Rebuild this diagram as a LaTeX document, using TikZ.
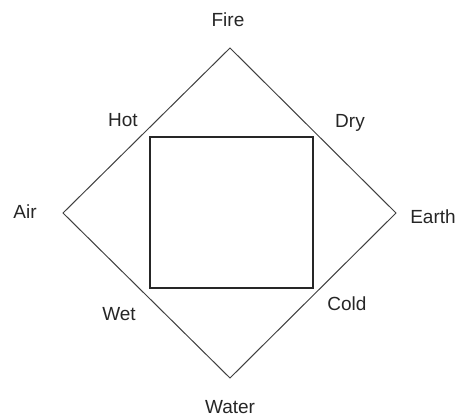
\documentclass[tikz,border=0pt]{standalone}
\usepackage{fontspec}
\setmainfont{Liberation Sans}
\usepackage{tikz}
\usetikzlibrary{positioning}
\tikzset{
  outer/.style   = {draw=black!75, line width=1pt, line join=miter},
  inner/.style   = {draw=black!85, line width=1.5pt},
  elem/.style    = {font=\fontsize{19}{22}\selectfont, text=black!85, anchor=base, inner sep=0pt},
}

\begin{document}
\begin{tikzpicture}[x=1pt,y=1pt]
  \useasboundingbox (0,0) rectangle (461,-416);

  % corners of the diamond
  \coordinate (fire)  at (230,-48);
  \coordinate (earth) at (396,-213);
  \coordinate (water) at (230,-378);
  \coordinate (air)   at (63,-213);
  \draw[outer] (fire) -- (earth) -- (water) -- (air) -- cycle;

  % corners of the square
  \coordinate (hot)  at (150,-137);
  \coordinate (dry)  at (313,-137);
  \coordinate (cold) at (313,-288);
  \coordinate (wet)  at (150,-288);
  \draw[inner] (hot) -- (dry) -- (cold) -- (wet) -- cycle;

  % elements
  \node[elem] (firelbl)  at (228,-26)  {Fire};
  \node[elem] (earthlbl) at (433,-223) {Earth};
  \node[elem] (waterlbl) at (230,-413) {Water};
  \node[elem] (airlbl)   at (25,-218)  {Air};

  % qualities
  \node[elem] (hotlbl)  at (123,-126) {Hot};
  \node[elem] (drylbl)  at (350,-127) {Dry};
  \node[elem] (coldlbl) at (347,-310) {Cold};
  \node[elem] (wetlbl)  at (119,-320) {Wet};
\end{tikzpicture}
\end{document}
